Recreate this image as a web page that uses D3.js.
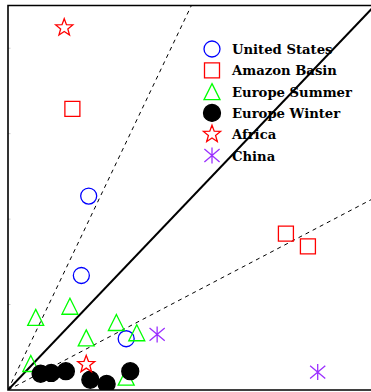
<!DOCTYPE html>
<html>
<head>
<meta charset="utf-8">
<script src="https://cdn.jsdelivr.net/npm/d3@7"></script>
<style>
  html, body { margin: 0; padding: 0; background: #fff; }
  svg { display: block; }
</style>
</head>
<body>
<div id="chart"></div>
<script>
// Series values (x = observed, y = modelled)
const usX = [0.99, 0.90, 1.45];
const usY = [2.27, 1.34, 0.60];

const amazonX = [0.79, 3.41, 3.68];
const amazonY = [3.29, 1.83, 1.68];

const summerX = [0.34, 0.76, 1.33, 0.96, 1.58, 0.28, 1.45];
const summerY = [0.85, 0.98, 0.79, 0.61, 0.67, 0.31, 0.15];

const winterX = [0.40, 0.53, 0.71, 1.01, 1.21, 1.50];
const winterY = [0.19, 0.20, 0.22, 0.12, 0.07, 0.22];

const africaX = [0.69, 0.96];
const africaY = [4.24, 0.30];

const chinaX = [1.83, 3.80];
const chinaY = [0.65, 0.21];

const seriesNames = ["United States", "Amazon Basin", "Europe Summer", "Europe Winter", "Africa", "China"];

// Reference ratio lines: y = k * x
const ratioLines = [1, 2, 0.5];

const yTicks = [1, 2, 3, 4];

const W = 371, H = 392;
const svg = d3.select("#chart").append("svg")
  .attr("width", W).attr("height", H);

const x = d3.scaleLinear().domain([0, 5]).range([8, 415.5]);
const y = d3.scaleLinear().domain([0, 4.5]).range([390, 5.5]);

svg.append("defs").append("clipPath").attr("id", "plotclip")
  .append("rect")
  .attr("x", x(0)).attr("y", y(4.5))
  .attr("width", x(5) - x(0)).attr("height", y(0) - y(4.5));

// Marker shapes
const markers = {
  circle: r => `M${r},0A${r},${r} 0 1,1 ${-r},0A${r},${r} 0 1,1 ${r},0Z`,
  square: s => `M${-s},${-s}H${s}V${s}H${-s}Z`,
  triangle: s => `M0,${-s}L${s},${s}L${-s},${s}Z`,
  star: (R) => {
    const r = R * 0.42;
    let p = "";
    for (let i = 0; i < 10; i++) {
      const a = -Math.PI / 2 + i * Math.PI / 5;
      const rad = i % 2 === 0 ? R : r;
      p += (i === 0 ? "M" : "L") + (rad * Math.cos(a)).toFixed(2) + "," + (rad * Math.sin(a)).toFixed(2);
    }
    return p + "Z";
  },
  asterisk: s => `M0,${-s}V${s}M${-s * 0.95},${-s * 0.8}L${s * 0.95},${s * 0.8}M${-s * 0.95},${s * 0.8}L${s * 0.95},${-s * 0.8}`
};

const series = [
  { name: seriesNames[0], xs: usX, ys: usY, shape: "circle", size: 8, stroke: "#0000ff", fill: "none" },
  { name: seriesNames[1], xs: amazonX, ys: amazonY, shape: "square", size: 7.5, stroke: "#ff0000", fill: "none" },
  { name: seriesNames[2], xs: summerX, ys: summerY, shape: "triangle", size: 8, stroke: "#00ff00", fill: "none" },
  { name: seriesNames[3], xs: winterX, ys: winterY, shape: "circle", size: 8.5, stroke: "#000000", fill: "#000000" },
  { name: seriesNames[4], xs: africaX, ys: africaY, shape: "star", size: 9, stroke: "#ff0000", fill: "none" },
  { name: seriesNames[5], xs: chinaX, ys: chinaY, shape: "asterisk", size: 8, stroke: "#9b30ff", fill: "none" }
];

// Faint ticks on left axis
svg.append("g").selectAll("line").data(yTicks).join("line")
  .attr("x1", x(0)).attr("x2", x(0) + 2.5)
  .attr("y1", d => y(d)).attr("y2", d => y(d))
  .attr("stroke", "#c8c8c8").attr("stroke-width", 1);

// Legend
const legend = svg.append("g");
series.forEach((s, i) => {
  const ly = 49 + i * 21.3;
  legend.append("path")
    .attr("transform", `translate(212,${ly})`)
    .attr("d", markers[s.shape](s.size))
    .attr("fill", s.fill).attr("stroke", s.stroke).attr("stroke-width", 1.3);
  legend.append("text")
    .attr("x", 232).attr("y", ly + 5)
    .attr("font-family", "DejaVu Serif")
    .attr("font-weight", "bold")
    .attr("font-size", 13.2)
    .attr("fill", "#000")
    .text(s.name);
});

// Ratio lines
const lines = svg.append("g").attr("clip-path", "url(#plotclip)");
ratioLines.forEach(k => {
  lines.append("line")
    .attr("x1", x(0)).attr("y1", y(0))
    .attr("x2", x(5)).attr("y2", y(5 * k))
    .attr("stroke", "#000")
    .attr("stroke-width", k === 1 ? 2 : 1)
    .attr("stroke-dasharray", k === 1 ? null : "4,4");
});

// Data markers
const pts = svg.append("g").attr("clip-path", "url(#plotclip)");
series.forEach(s => {
  pts.append("g").selectAll("path")
    .data(s.xs.map((v, i) => [v, s.ys[i]]))
    .join("path")
    .attr("transform", d => `translate(${x(d[0])},${y(d[1])})`)
    .attr("d", markers[s.shape](s.size))
    .attr("fill", s.fill).attr("stroke", s.stroke).attr("stroke-width", 1.3);
});

// Plot frame (left, top, bottom)
svg.append("path")
  .attr("d", `M${x(5)},${y(4.5)}H${x(0)}V${y(0)}H${x(5)}`)
  .attr("fill", "none").attr("stroke", "#000").attr("stroke-width", 1.6);
</script>
</body>
</html>
